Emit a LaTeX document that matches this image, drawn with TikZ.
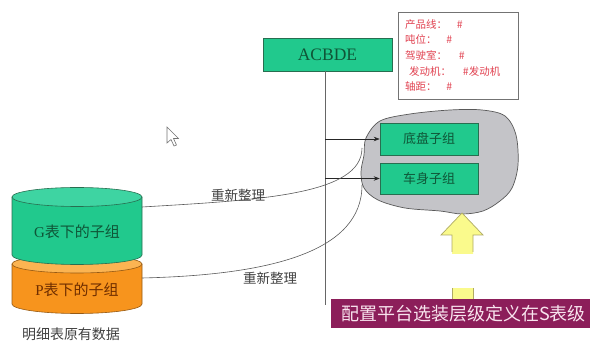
\documentclass[tikz,border=0pt]{standalone}
\usepackage{fontspec}
\setmainfont{Liberation Serif}
\newfontfamily\cjk{Noto Sans CJK SC}
\usetikzlibrary{arrows.meta}
\definecolor{grn}{RGB}{33,201,141}
\definecolor{grntop}{RGB}{62,212,162}
\definecolor{grnline}{RGB}{40,110,80}
\definecolor{grntext}{RGB}{15,85,55}
\definecolor{org}{RGB}{247,148,29}
\definecolor{orgtop}{RGB}{251,180,82}
\definecolor{orgline}{RGB}{150,90,20}
\definecolor{orgtext}{RGB}{110,45,0}
\definecolor{blobfill}{RGB}{196,196,200}
\definecolor{redtxt}{RGB}{225,65,80}
\definecolor{bannerfill}{RGB}{140,30,90}
\definecolor{bannertxt}{RGB}{248,228,238}
\definecolor{yel}{RGB}{250,250,140}
\definecolor{yelline}{RGB}{175,170,100}
\begin{document}
\begin{tikzpicture}[x=1pt,y=1pt,
  gbox/.style={draw=grnline, fill=grn, line width=0.6pt, inner sep=0pt, text=grntext},
  conn/.style={draw=black!85, line width=0.6pt},
  arr/.style={conn, -{Stealth[length=6pt,width=4.5pt]}},
  curveline/.style={draw=black!65, line width=0.6pt},
  vline/.style={draw=black!60, line width=0.8pt},
  lbl/.style={font=\cjk\fontsize{13.5}{14}\selectfont, text=black!75, inner sep=0pt},
  cylout/.style={line width=0.6pt},
]
\useasboundingbox (0,0) rectangle (592,-344);

% spec box
\node[draw=black!55, fill=white, line width=0.6pt, minimum width=120pt, minimum height=87pt,
      text width=106pt, inner sep=0pt, align=left, text=redtxt,
      font=\cjk\fontsize{10.5}{15.7}\selectfont] (spec) at (458,-55.5)
  {产品线：\hspace{10pt}\#\\
   吨位：\hspace{10pt}\#\\
   驾驶室：\hspace{12pt}\#\\
   \hspace*{4pt}发动机：\hspace{12pt}\#发动机\\
   轴距：\hspace{10pt}\#};

% ACBDE box and vertical line
\node[gbox, minimum width=129pt, minimum height=33pt, font=\fontsize{17.5}{18}\selectfont] (acbde) at (327.5,-54.5) {ACBDE};
\coordinate (vtop) at (325,-71);
\coordinate (vbot) at (325,-305);
\draw[vline] (vtop) -- (vbot);

% cylinders
\fill[org] (12,-264) -- (12,-304) arc[start angle=180,end angle=360,x radius=65,y radius=9.5] -- (142,-264) -- cycle;
\draw[cylout, orgline] (12,-264) -- (12,-304) arc[start angle=180,end angle=360,x radius=65,y radius=9.5] -- (142,-264);
\filldraw[cylout, fill=orgtop, draw=orgline] (77,-264) ellipse[x radius=65, y radius=9];
\fill[grn] (12,-197) -- (12,-255) arc[start angle=180,end angle=360,x radius=65,y radius=9.5] -- (142,-197) -- cycle;
\draw[cylout, grnline] (12,-197) -- (12,-255) arc[start angle=180,end angle=360,x radius=65,y radius=9.5] -- (142,-197);
\filldraw[cylout, fill=grntop, draw=grnline] (77,-197) ellipse[x radius=65, y radius=9.5];

\node[font=\fontsize{15}{16}\selectfont, text=grntext, inner sep=0pt] (gtxt) at (77,-232) {G{\cjk 表下的子组}};
\node[font=\fontsize{15}{16}\selectfont, text=orgtext, inner sep=0pt] (ptxt) at (77,-290) {P{\cjk 表下的子组}};
\node[lbl, font=\cjk\fontsize{14}{14}\selectfont] (detail) at (71,-334) {明细表原有数据};

% blob
\filldraw[fill=blobfill, draw=black!65, line width=0.7pt]
  plot[smooth cycle, tension=0.55] coordinates {
   (380,-121) (410,-114) (450,-110) (482,-110) (505,-116) (516,-135) (518,-165)
   (512,-188) (500,-201) (483,-211) (462,-214) (440,-211) (405,-208) (378,-200)
   (364,-188) (361,-172) (364,-155) (366,-138)};

% sub-group boxes
\node[gbox, minimum width=98pt, minimum height=32pt, font=\cjk\fontsize{13}{13}\selectfont] (chassis) at (429,-139) {底盘子组};
\node[gbox, minimum width=98pt, minimum height=31pt, font=\cjk\fontsize{13}{13}\selectfont] (body) at (429,-178.5) {车身子组};

\draw[arr] (vtop |- chassis.west) -- (chassis.west);
\draw[arr] (vtop |- body.west) -- (body.west);

% curves
\coordinate (gR) at (142,-207);
\coordinate (pR) at (142,-278);
\coordinate (c1) at (362,-148);
\coordinate (c2) at (362,-185);
\draw[curveline] (gR) .. controls (260,-200) and (362,-195) .. (c1);
\draw[curveline] (pR) .. controls (270,-275) and (362,-252) .. (c2);
\node[lbl] (rl1) at (238,-195) {重新整理};
\node[lbl] (rl2) at (270,-278) {重新整理};

% yellow arrow
\fill[yel] (462,-213) -- (483,-235) -- (473,-235) -- (473,-254) -- (452,-254) -- (452,-235) -- (441,-235) -- cycle;
\draw[yelline, line width=0.7pt] (452,-252) -- (452,-235) -- (441,-235) -- (462,-213) -- (483,-235) -- (473,-235) -- (473,-252);
\fill[yel] (452,-288) rectangle (473,-299);
\draw[yelline, line width=0.7pt] (452,-299) -- (452,-288) (473,-288) -- (473,-299);

% banner
\node[fill=bannerfill, minimum width=259pt, minimum height=29pt, inner sep=0pt, text=bannertxt,
      font=\cjk\fontsize{18}{18}\selectfont] (banner) at (460.5,-313.5) {\hspace{6pt}配置平台选装层级定义在S表级};

% mouse pointer
\filldraw[fill=white, draw=black!55, line width=0.6pt]
  (167,-127) -- (167,-143) -- (171,-139.5) -- (174,-146) -- (176.5,-145) -- (173.5,-138.5) -- (178.5,-138.5) -- cycle;
\end{tikzpicture}
\end{document}
